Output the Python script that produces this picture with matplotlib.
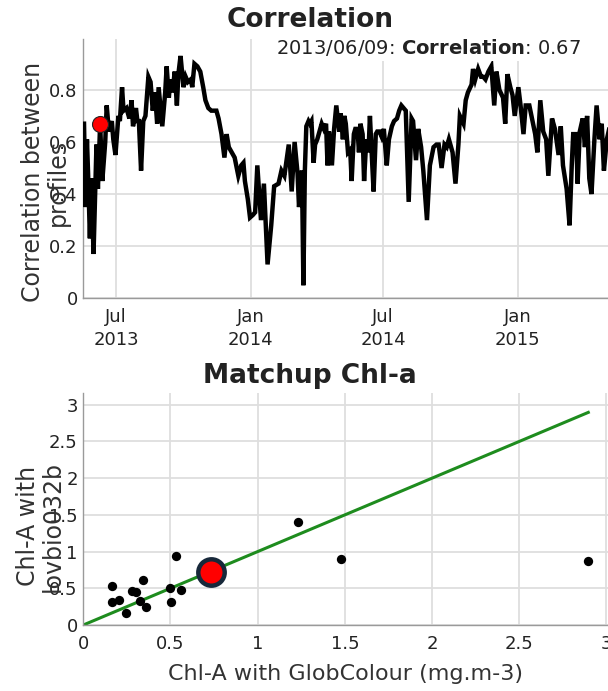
import matplotlib
matplotlib.use("Agg")
import matplotlib.pyplot as plt
import pandas as pd

# --- correlation time series (date, correlation between profiles) ---
corr_dates = [
    "2013-05-18", "2013-05-20", "2013-05-22", "2013-05-24", "2013-05-26", "2013-05-28",
    "2013-05-31", "2013-06-04", "2013-06-06", "2013-06-09", "2013-06-12", "2013-06-16",
    "2013-06-18", "2013-06-21", "2013-06-25", "2013-06-27", "2013-06-30", "2013-07-04",
    "2013-07-06", "2013-07-09", "2013-07-11", "2013-07-15", "2013-07-19", "2013-07-22",
    "2013-07-24", "2013-07-28", "2013-07-30", "2013-08-01", "2013-08-04", "2013-08-07",
    "2013-08-10", "2013-08-14", "2013-08-17", "2013-08-20", "2013-08-23", "2013-08-26",
    "2013-08-28", "2013-08-31", "2013-09-02", "2013-09-06", "2013-09-08", "2013-09-11",
    "2013-09-13", "2013-09-16", "2013-09-19", "2013-09-22", "2013-09-24", "2013-09-27",
    "2013-10-01", "2013-10-04", "2013-10-07", "2013-10-11", "2013-10-13", "2013-10-16",
    "2013-10-20", "2013-10-24", "2013-10-28", "2013-10-31", "2013-11-04", "2013-11-08",
    "2013-11-15", "2013-11-18", "2013-11-22", "2013-11-26", "2013-11-29", "2013-12-02",
    "2013-12-06", "2013-12-10", "2013-12-15", "2013-12-19", "2013-12-22", "2013-12-24",
    "2013-12-28", "2013-12-31", "2014-01-04", "2014-01-07", "2014-01-10", "2014-01-15",
    "2014-01-19", "2014-01-24", "2014-01-29", "2014-02-02", "2014-02-08", "2014-02-12",
    "2014-02-16", "2014-02-22", "2014-02-26", "2014-03-02", "2014-03-06", "2014-03-08",
    "2014-03-12", "2014-03-14", "2014-03-16", "2014-03-18", "2014-03-21", "2014-03-23",
    "2014-03-25", "2014-03-28", "2014-03-30", "2014-04-02", "2014-04-06", "2014-04-08",
    "2014-04-11", "2014-04-14", "2014-04-16", "2014-04-18", "2014-04-22", "2014-04-25",
    "2014-04-28", "2014-05-02", "2014-05-04", "2014-05-07", "2014-05-09", "2014-05-11",
    "2014-05-14", "2014-05-17", "2014-05-19", "2014-05-22", "2014-05-24", "2014-05-27",
    "2014-05-29", "2014-05-31", "2014-06-03", "2014-06-05", "2014-06-08", "2014-06-11",
    "2014-06-13", "2014-06-15", "2014-06-18", "2014-06-21", "2014-06-23", "2014-06-26",
    "2014-06-29", "2014-07-02", "2014-07-06", "2014-07-09", "2014-07-13", "2014-07-16",
    "2014-07-20", "2014-07-23", "2014-07-26", "2014-08-01", "2014-08-05", "2014-08-09",
    "2014-08-11", "2014-08-15", "2014-08-18", "2014-08-22", "2014-08-25", "2014-08-30",
    "2014-09-03", "2014-09-08", "2014-09-12", "2014-09-15", "2014-09-19", "2014-09-23",
    "2014-09-26", "2014-09-29", "2014-10-04", "2014-10-08", "2014-10-12", "2014-10-14",
    "2014-10-19", "2014-10-22", "2014-10-25", "2014-10-30", "2014-11-01", "2014-11-04",
    "2014-11-06", "2014-11-08", "2014-11-12", "2014-11-15", "2014-11-18", "2014-11-22",
    "2014-11-26", "2014-11-30", "2014-12-03", "2014-12-07", "2014-12-12", "2014-12-15",
    "2014-12-18", "2014-12-22", "2014-12-25", "2014-12-28", "2015-01-02", "2015-01-05",
    "2015-01-09", "2015-01-12", "2015-01-17", "2015-01-22", "2015-01-25", "2015-01-28",
    "2015-02-01", "2015-02-05", "2015-02-09", "2015-02-12", "2015-02-17", "2015-02-21",
    "2015-02-26", "2015-03-01", "2015-03-04", "2015-03-09", "2015-03-13", "2015-03-16",
    "2015-03-18", "2015-03-22", "2015-03-24", "2015-03-27", "2015-03-31", "2015-04-03",
    "2015-04-06", "2015-04-09", "2015-04-12", "2015-04-16", "2015-04-19", "2015-04-23",
    "2015-04-26", "2015-04-29", "2015-05-03", "2015-05-07",
]
corr_values = [
    0.67, 0.35, 0.61, 0.44, 0.23, 0.46,
    0.17, 0.59, 0.42, 0.67, 0.45, 0.60,
    0.74, 0.64, 0.68, 0.61, 0.55, 0.70,
    0.68, 0.81, 0.72, 0.73, 0.69, 0.76,
    0.66, 0.73, 0.68, 0.68, 0.49, 0.68,
    0.70, 0.85, 0.83, 0.72, 0.79, 0.67,
    0.81, 0.72, 0.66, 0.79, 0.89, 0.77,
    0.84, 0.79, 0.87, 0.74, 0.86, 0.93,
    0.81, 0.85, 0.83, 0.84, 0.81, 0.90,
    0.89, 0.87, 0.81, 0.76, 0.73, 0.72,
    0.72, 0.69, 0.63, 0.54, 0.63, 0.58,
    0.56, 0.54, 0.47, 0.51, 0.52, 0.45,
    0.38, 0.31, 0.32, 0.33, 0.51, 0.30,
    0.44, 0.13, 0.28, 0.43, 0.44, 0.49,
    0.47, 0.59, 0.41, 0.60, 0.48, 0.35,
    0.49, 0.05, 0.49, 0.66, 0.68, 0.67,
    0.68, 0.52, 0.59, 0.61, 0.65, 0.67,
    0.65, 0.67, 0.51, 0.64, 0.51, 0.65,
    0.74, 0.64, 0.71, 0.61, 0.70, 0.67,
    0.56, 0.57, 0.45, 0.63, 0.65, 0.65,
    0.56, 0.67, 0.63, 0.45, 0.61, 0.56,
    0.70, 0.58, 0.41, 0.63, 0.64, 0.64,
    0.62, 0.65, 0.51, 0.61, 0.66, 0.68,
    0.69, 0.72, 0.74, 0.72, 0.37, 0.69,
    0.68, 0.53, 0.65, 0.58, 0.49, 0.30,
    0.51, 0.58, 0.59, 0.59, 0.50, 0.59,
    0.58, 0.61, 0.56, 0.44, 0.59, 0.70,
    0.67, 0.76, 0.79, 0.82, 0.88, 0.84,
    0.86, 0.88, 0.85, 0.85, 0.84, 0.87,
    0.89, 0.74, 0.87, 0.80, 0.77, 0.67,
    0.86, 0.81, 0.78, 0.70, 0.81, 0.74,
    0.63, 0.74, 0.74, 0.67, 0.63, 0.56,
    0.76, 0.64, 0.61, 0.47, 0.69, 0.65,
    0.55, 0.66, 0.51, 0.42, 0.28, 0.51,
    0.63, 0.63, 0.44, 0.64, 0.69, 0.58,
    0.70, 0.46, 0.40, 0.61, 0.74, 0.61,
    0.67, 0.49, 0.61, 0.66,
]
sel_date = "2013-06-09"
sel_corr = 0.67

corr_xticks = ["2013-07-01", "2014-01-01", "2014-07-01", "2015-01-01"]
corr_xlabels = ["Jul\n2013", "Jan\n2014", "Jul\n2014", "Jan\n2015"]
corr_yticks = [0, 0.2, 0.4, 0.6, 0.8]

# --- matchup scatter ---
chl_glob = [0.167, 0.167, 0.205, 0.247, 0.278, 0.305, 0.327, 0.342, 0.362,
            0.50, 0.505, 0.534, 0.558, 1.229, 1.48, 2.896]
chl_float = [0.535, 0.32, 0.34, 0.17, 0.46, 0.445, 0.33, 0.61, 0.24,
             0.51, 0.32, 0.94, 0.47, 1.40, 0.90, 0.87]
sel_glob = 0.733
sel_float = 0.72
chl_ticks = [0, 0.5, 1, 1.5, 2, 2.5, 3]
chl_labels = ["0", "0.5", "1", "1.5", "2", "2.5", "3"]

W, H = 608, 691
fig = plt.figure(figsize=(W / 100, H / 100), dpi=100)
fig.patch.set_facecolor("white")

TICK_C = "#222222"
GRID_C = "#dedede"


def style_axes(ax):
    ax.grid(True, color=GRID_C, lw=1.3)
    ax.set_axisbelow(True)
    for s in ("top", "right"):
        ax.spines[s].set_visible(False)
    for s in ("left", "bottom"):
        ax.spines[s].set_color("#9a9a9a")
        ax.spines[s].set_linewidth(1.0)
    ax.tick_params(length=0, labelsize=13, colors=TICK_C)


# top: correlation
ax1 = fig.add_axes([83.3 / W, 1 - 298.3 / H, (W - 83.3) / W, (298.3 - 39) / H])
style_axes(ax1)
ax1.plot(pd.to_datetime(corr_dates), corr_values, color="black", lw=3.2,
         solid_joinstyle="miter", zorder=3)
ax1.plot(pd.to_datetime([sel_date]), [sel_corr], "o", ms=11.5, mfc="#ff0000",
         mec="#222222", mew=0.8, zorder=4)
ax1.set_xlim(pd.Timestamp("2013-05-17"), pd.Timestamp("2015-05-04 14:00"))
ax1.set_ylim(0, 0.995)
ax1.set_xticks(pd.to_datetime(corr_xticks))
ax1.set_xticklabels(corr_xlabels, linespacing=1.35)
ax1.set_yticks(corr_yticks)
ax1.set_yticklabels(["0", "0.2", "0.4", "0.6", "0.8"])
ax1.tick_params(axis="x", pad=7)
ax1.tick_params(axis="y", pad=4)

ax1.text(428 / W, 1 - 47 / H, f"{sel_date.replace('-', '/')}: $\\bf{{Correlation}}$: {sel_corr:.2f}",
         transform=fig.transFigure, ha="center", va="center", fontsize=14,
         color="#222222",
         bbox=dict(facecolor="white", edgecolor="none", pad=2.5), zorder=5)

fig.text(0.51, 1 - 20 / H, "Correlation", ha="center", va="center",
         fontsize=19, fontweight="bold", color="#222222")
fig.text(45.5 / W, 1 - 182 / H, "Correlation between\nprofiles", rotation=90,
         ha="center", va="center", multialignment="center", fontsize=17,
         color="#333333", linespacing=1.05)

# bottom: matchup
ax2 = fig.add_axes([83.3 / W, 1 - 625 / H, (W - 83.3) / W, (625 - 393) / H])
style_axes(ax2)
ax2.plot([0, max(chl_glob)], [0, max(chl_glob)], color="#1e8c1e", lw=2.2, zorder=2)
ax2.scatter(chl_glob, chl_float, s=45, color="black", zorder=3, linewidths=0)
ax2.plot([sel_glob], [sel_float], "o", ms=19, mfc="#ff0000", mec="#17283a",
         mew=3.2, zorder=4)
ax2.set_xlim(0, 3.009)
ax2.set_ylim(0, 3.16)
ax2.set_xticks(chl_ticks)
ax2.set_xticklabels(chl_labels)
ax2.set_yticks(chl_ticks)
ax2.set_yticklabels(chl_labels)
ax2.tick_params(axis="x", pad=7)
ax2.tick_params(axis="y", pad=4)
ax2.set_xlabel("Chl-A with GlobColour (mg.m-3)", fontsize=16, color="#333333",
               labelpad=8)

fig.text(0.51, 1 - 376 / H, "Matchup Chl-a", ha="center", va="center",
         fontsize=19, fontweight="bold", color="#222222")
fig.text(40.5 / W, 1 - 526 / H, "Chl-A with\nlovbio032b", rotation=90,
         ha="center", va="center", multialignment="center", fontsize=17,
         color="#333333", linespacing=1.05)

fig.savefig("out.png", dpi=100, facecolor="white")
